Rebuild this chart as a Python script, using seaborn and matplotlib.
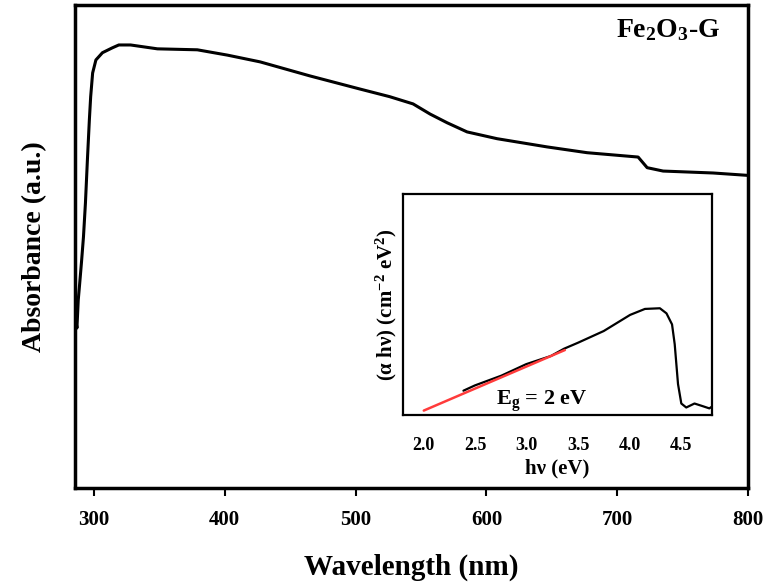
import numpy as np
import pandas as pd
import matplotlib
matplotlib.use("Agg")
import matplotlib.pyplot as plt
import seaborn as sns

# Main spectrum: wavelength (nm) vs absorbance (a.u., normalised)
wavelength = [285.6, 287.0, 288.0, 289.0, 290.5, 292.0, 293.5, 295.0, 296.5, 297.5,
              299.0, 301.5, 306.5, 314.0, 319.0, 328.0, 348.5, 379.0, 402.0, 427.0,
              465.0, 503.0, 526.0, 543.9, 556.9, 569.9, 585.2, 608.1, 646.3, 676.9,
              715.9, 722.8, 735.0, 773.2, 800.0]
absorbance = [0.358, 0.331, 0.389, 0.420, 0.468, 0.520, 0.590, 0.679, 0.762, 0.810,
              0.859, 0.886, 0.901, 0.911, 0.917, 0.917, 0.909, 0.907, 0.896, 0.882,
              0.853, 0.826, 0.810, 0.795, 0.774, 0.756, 0.737, 0.723, 0.706, 0.694,
              0.685, 0.663, 0.656, 0.652, 0.647]

# Inset Tauc plot
energy = [2.385, 2.497, 2.753, 2.994, 3.234, 3.362, 3.497, 3.747, 4.003, 4.147,
          4.292, 4.356, 4.41, 4.436, 4.468, 4.500, 4.548, 4.628, 4.708, 4.772, 4.804]
tauc = [0.110, 0.134, 0.178, 0.230, 0.267, 0.300, 0.327, 0.380, 0.453, 0.480,
        0.483, 0.460, 0.410, 0.320, 0.140, 0.052, 0.034, 0.052, 0.040, 0.030, 0.040]
fit_energy = [2.0, 3.37]
fit_tauc = [0.020, 0.294]

main_ticks = [300, 400, 500, 600, 700, 800]
inset_ticks = [2.0, 2.5, 3.0, 3.5, 4.0, 4.5]

sns.set_style("white")
plt.rcParams['font.family'] = ['Liberation Serif', 'DejaVu Serif']
plt.rcParams['font.weight'] = 'bold'
plt.rcParams['text.color'] = 'black'
plt.rcParams['axes.labelcolor'] = 'black'
plt.rcParams['xtick.color'] = 'black'
plt.rcParams['ytick.color'] = 'black'
plt.rcParams['mathtext.fontset'] = 'custom'
plt.rcParams['mathtext.rm'] = 'Liberation Serif:bold'
plt.rcParams['mathtext.bf'] = 'Liberation Serif:bold'
plt.rcParams['mathtext.it'] = 'Liberation Serif:bold'
plt.rcParams['mathtext.default'] = 'rm'

fig = plt.figure(figsize=(7.65, 5.87), dpi=100)
ax = fig.add_axes([0.098, 0.1687, 0.880, 0.823])

df = pd.DataFrame({"wl": wavelength, "abs": absorbance})
sns.lineplot(data=df, x="wl", y="abs", ax=ax, color="black", lw=2.2, sort=False)
ax.set_xlim(285.5, 800)
ax.set_ylim(0, 1.0)
ax.set_xticks(main_ticks)
ax.set_xticklabels([str(t) for t in main_ticks], fontsize=15, fontweight='bold')
ax.set_yticks([])
ax.tick_params(axis='x', direction='out', length=6, width=1.5, bottom=True, pad=10)
for s in ax.spines.values():
    s.set_linewidth(2.5)
    s.set_color('black')
ax.set_xlabel("Wavelength (nm)", fontsize=21, fontweight='bold', labelpad=17)
ax.set_ylabel("Absorbance (a.u.)", fontsize=20, fontweight='bold', labelpad=20)
ax.text(0.958, 0.975, "Fe$_2$O$_3$-G", transform=ax.transAxes, ha='right', va='top',
        fontsize=20, fontweight='bold')

ins = fig.add_axes([0.527, 0.293, 0.404, 0.3765])
di = pd.DataFrame({"e": energy, "t": tauc})
sns.lineplot(data=di, x="e", y="t", ax=ins, color="black", lw=1.6, sort=False)
df2 = pd.DataFrame({"e": fit_energy, "t": fit_tauc})
sns.lineplot(data=df2, x="e", y="t", ax=ins, color="#ff3b3b", lw=1.8, sort=False)
ins.set_xlim(1.8, 4.8)
ins.set_ylim(0, 1.0)
ins.set_xticks(inset_ticks)
ins.set_xticklabels([f"{t:.1f}" for t in inset_ticks], fontsize=13, fontweight='bold')
ins.set_yticks([])
ins.tick_params(axis='x', length=0, pad=16)
for s in ins.spines.values():
    s.set_linewidth(1.6)
    s.set_color('black')
ins.set_xlabel("hν (eV)", fontsize=15, fontweight='bold', labelpad=3)
ins.set_ylabel("(α hν) (cm$^{-2}$ eV$^2$)", fontsize=15, fontweight='bold', labelpad=3)
ins.text(2.70, 0.06, "E$_g$ = 2 eV", fontsize=16, fontweight='bold', ha='left', va='center')

fig.savefig("out.png", dpi=100)
